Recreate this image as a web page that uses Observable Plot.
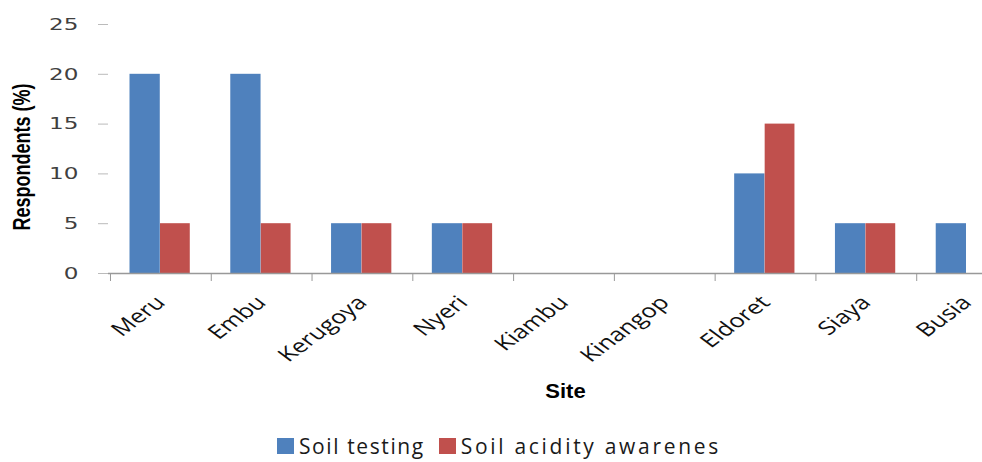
<!DOCTYPE html>
<html>
<head>
<meta charset="utf-8">
<script src="https://cdn.jsdelivr.net/npm/d3@7"></script>
<script src="https://cdn.jsdelivr.net/npm/@observablehq/plot@0.6"></script>
<style>
  body { margin: 0; background: #fff; width: 982px; height: 462px; overflow: hidden; position: relative; }
  #chart svg { display: block; }
  #legend { position: absolute; left: 277px; top: 432px; font-family: "Open Sans", sans-serif; font-size: 21px; color: #1a1a1a; display: flex; align-items: center; }
  #legend span.sw { display: inline-block; width: 17px; height: 16px; margin-right: 5px; }
  #legend .item { display: flex; align-items: center; margin-right: 14px; }
</style>
</head>
<body>
<div id="chart"></div>
<div id="legend"></div>
<script>
const sites = ["Meru", "Embu", "Kerugoya", "Nyeri", "Kiambu", "Kinangop", "Eldoret", "Siaya", "Busia"];
const soilTesting = [20, 20, 5, 5, 0, 0, 10, 5, 5];
const acidityAwareness = [5, 5, 5, 5, 0, 0, 15, 5, 0];
const seriesNames = ["Soil testing", "Soil acidity awarenes"];
const seriesColors = ["#4F81BD", "#C0504D"];
const yTicks = [0, 5, 10, 15, 20, 25];

const rows = sites.flatMap((s, i) => [
  {site: s, series: seriesNames[0], value: soilTesting[i]},
  {site: s, series: seriesNames[1], value: acidityAwareness[i]}
]);

const W = 982, H = 420;
const chart = Plot.plot({
  width: W,
  height: H,
  marginLeft: 108,
  marginRight: 0,
  marginTop: 24,
  marginBottom: H - 273,
  style: {background: "#fff", overflow: "hidden"},
  x: {domain: sites, range: [110, 1017], padding: 0, round: false},
  y: {domain: [0, 25]},
  color: {domain: seriesNames, range: seriesColors},
  marks: [
    Plot.barY(rows.filter(d => d.series === seriesNames[0]), {x: "site", y: "value", fill: "series", insetLeft: 19.5, insetRight: 51}),
    Plot.barY(rows.filter(d => d.series === seriesNames[1]), {x: "site", y: "value", fill: "series", insetLeft: 50, insetRight: 21}),
    Plot.ruleY([0], {stroke: "#999", strokeWidth: 1.5}),
    Plot.axisX({ticks: sites, tickSize: 8, dx: -50.4, text: null, stroke: "#999", label: null}),
    Plot.axisX({ticks: sites, tickSize: 0, tickPadding: 26, tickRotate: -45, fontSize: 19, fontFamily: "Open Sans, sans-serif", fill: "#111",
      label: "Site", labelAnchor: "center", labelOffset: 124, labelArrow: "none"}),
    Plot.axisY({ticks: yTicks, tickSize: 10, tickPadding: 20, stroke: "#bbb", fill: "#404040", fontSize: 16.5, fontFamily: "DejaVu Sans, sans-serif",
      label: "Respondents (%)", labelAnchor: "center", labelOffset: 95, labelArrow: "none"})
  ]
});
document.getElementById("chart").appendChild(chart);

// emulate the horizontally stretched lettering of the original
function stretch(sel, sx, shiftX = 0, shiftY = 0) {
  chart.querySelectorAll(sel).forEach(t => {
    let tr = t.getAttribute("transform") || "";
    if (tr.includes("translate")) {
      if (tr.includes("rotate(")) tr = tr.replace("rotate(", `scale(${sx},1) rotate(`);
      else tr = tr + ` scale(${sx},1)`;
      t.setAttribute("transform", `translate(${shiftX},${shiftY}) ` + tr);
    } else {
      const x = +(t.getAttribute("x") || 0), y = +(t.getAttribute("y") || 0);
      t.setAttribute("x", 0); t.setAttribute("y", 0);
      t.setAttribute("transform", `translate(${x + shiftX},${y + shiftY}) scale(${sx},1) ${tr}`);
    }
  });
}
chart.querySelectorAll('[aria-label="y-axis label"] text').forEach(t => {
  t.setAttribute("font-size", 18); t.setAttribute("font-weight", "bold"); t.setAttribute("fill", "#000");
  t.setAttribute("font-family", "Liberation Sans, sans-serif");
});
chart.querySelectorAll('[aria-label="x-axis label"] text').forEach(t => {
  t.setAttribute("font-size", 21); t.setAttribute("font-weight", "bold"); t.setAttribute("fill", "#000");
  t.setAttribute("font-family", "Liberation Sans, sans-serif");
});
stretch('[aria-label="y-axis tick label"] text', 1.4);
stretch('[aria-label="x-axis tick label"] text', 1.35);
stretch('[aria-label="y-axis label"] text', 1.3, 0, 8);
stretch('[aria-label="x-axis label"] text', 1.05, 20, 0);

const legend = document.getElementById("legend");
const spacing = ["1.6px", "2.7px"];
seriesNames.forEach((n, i) => {
  const item = document.createElement("div");
  item.className = "item";
  item.style.letterSpacing = spacing[i];
  const sw = document.createElement("span");
  sw.className = "sw";
  sw.style.background = seriesColors[i];
  item.appendChild(sw);
  item.appendChild(document.createTextNode(n));
  legend.appendChild(item);
});
</script>
</body>
</html>
